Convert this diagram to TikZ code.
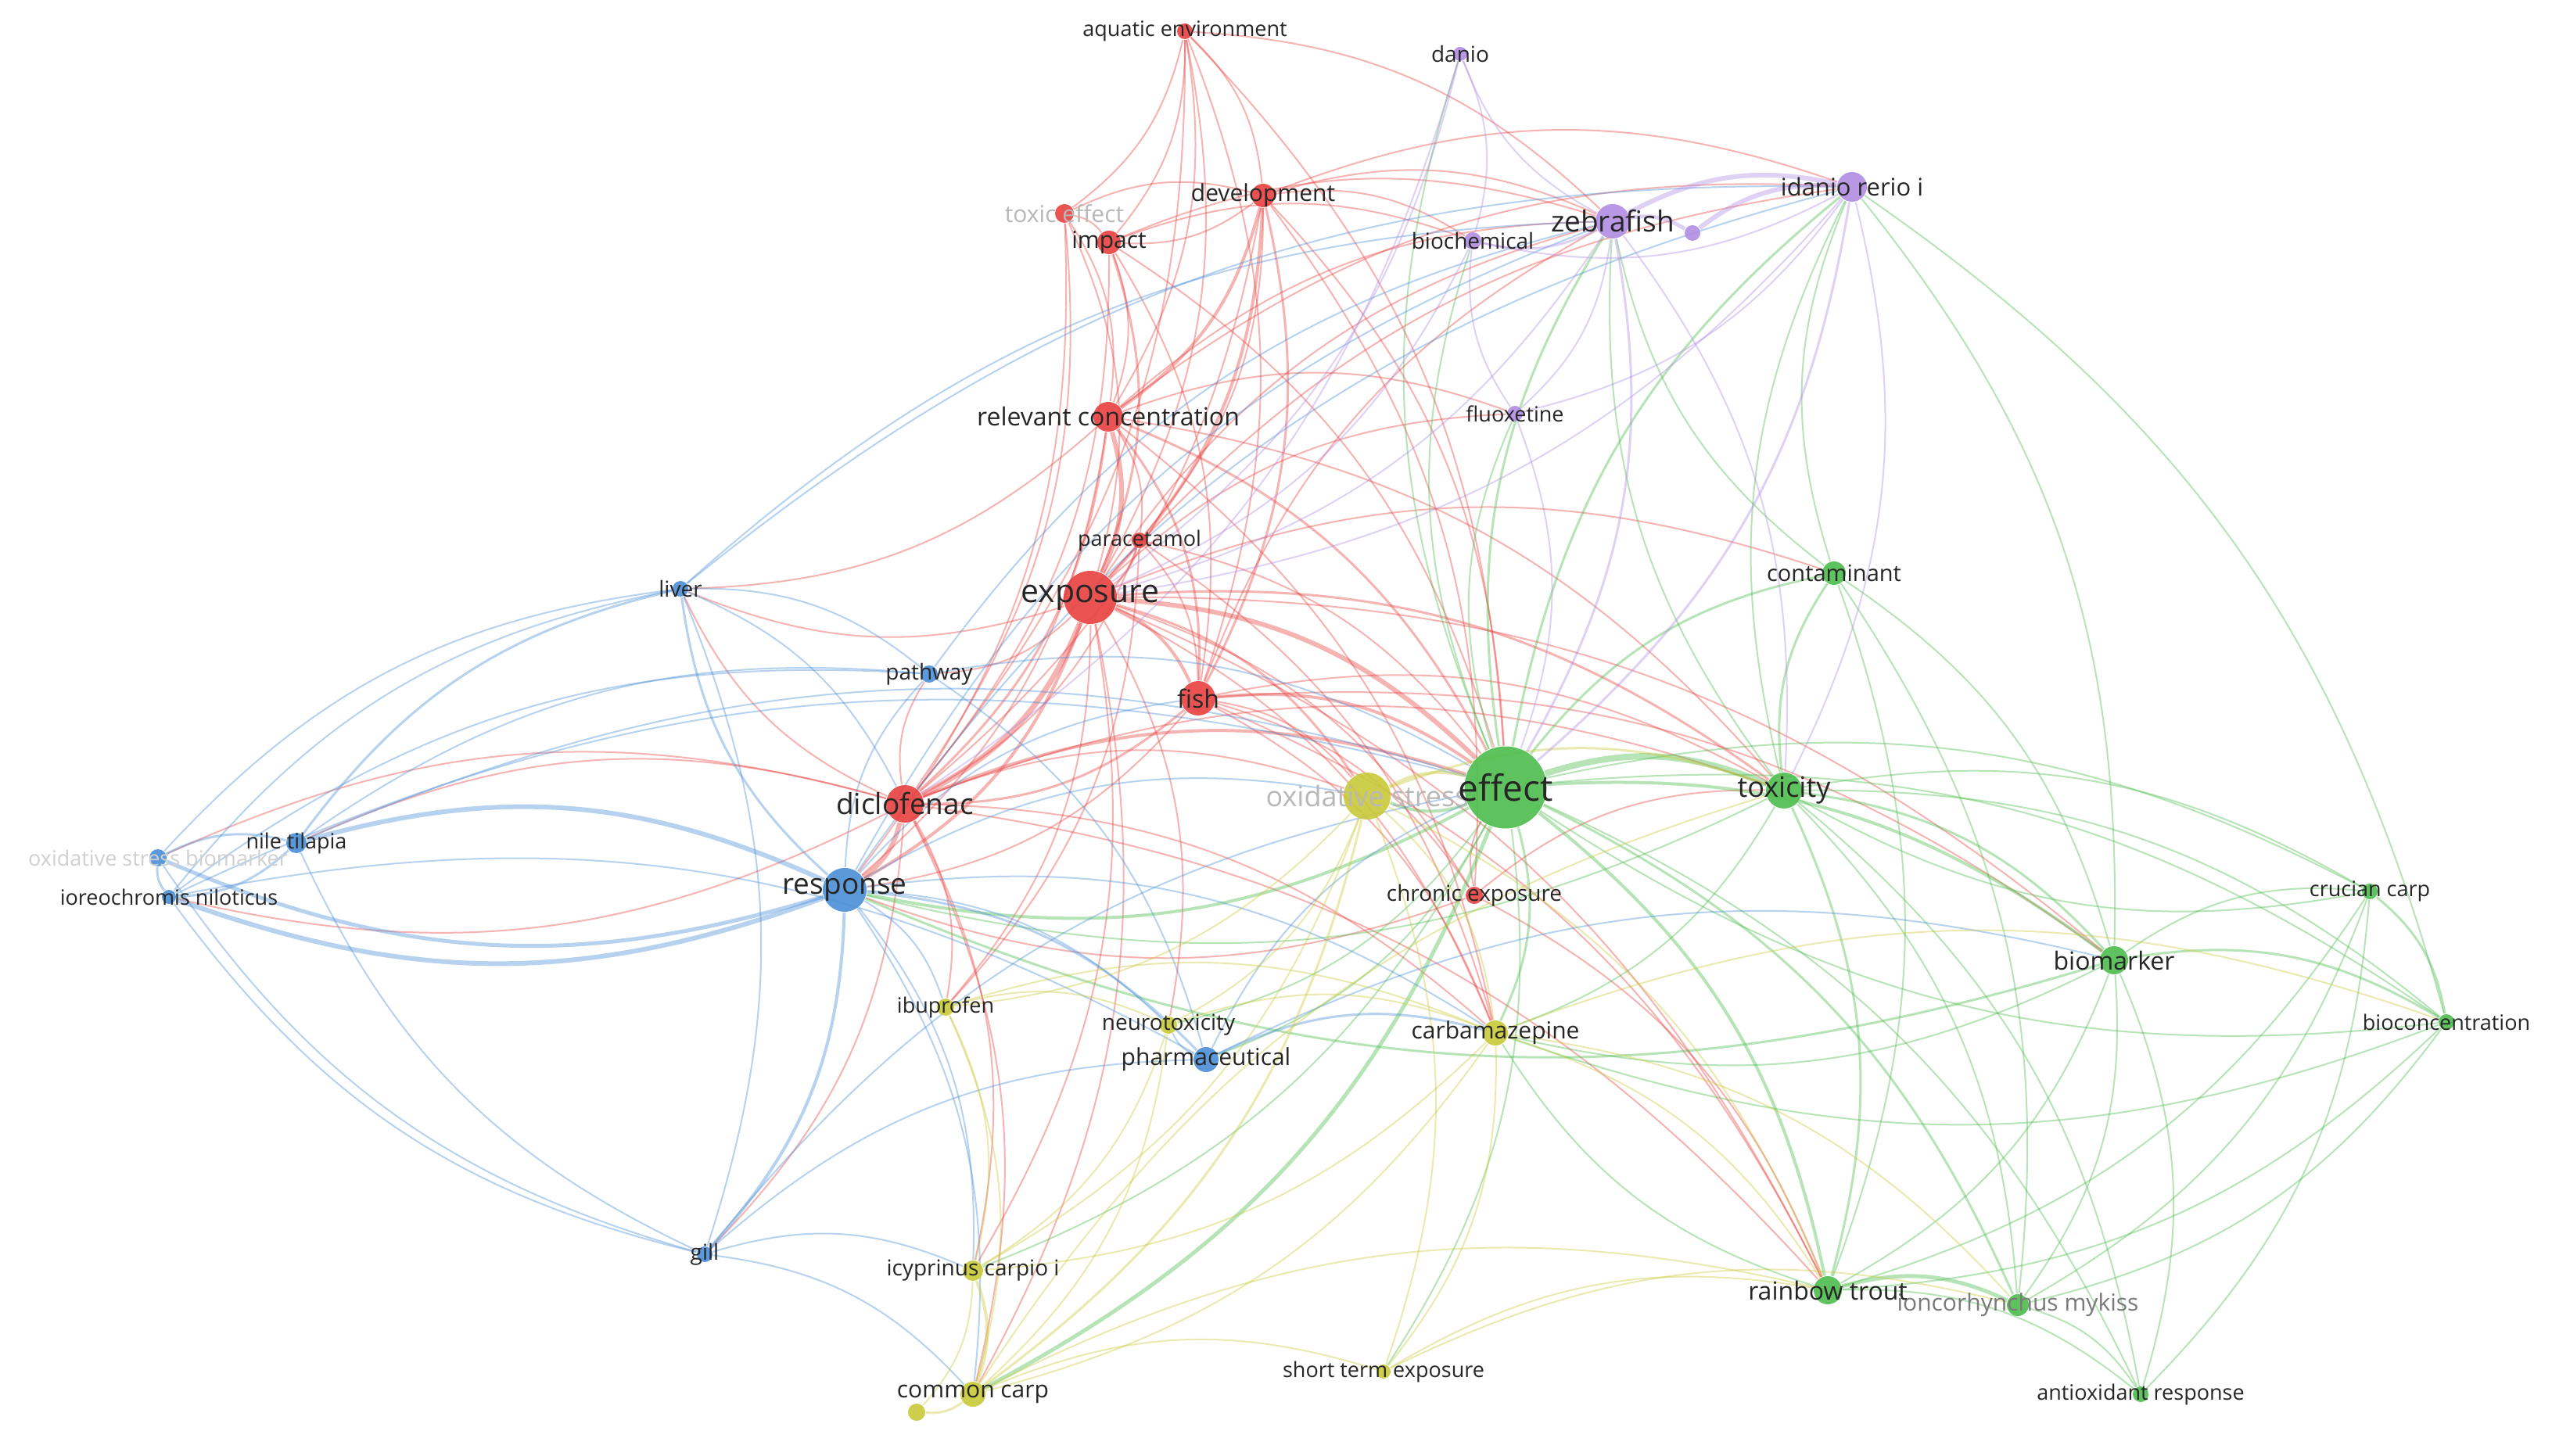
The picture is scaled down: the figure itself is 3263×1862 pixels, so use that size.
\documentclass[tikz,border=0pt]{standalone}
\usepackage{fontspec}
\setmainfont{Open Sans}
\pgfdeclarelayer{bg}
\pgfsetlayers{bg,main}
\definecolor{kR}{HTML}{E8413F}
\definecolor{kG}{HTML}{4DBD4D}
\definecolor{kB}{HTML}{4A8FD8}
\definecolor{kY}{HTML}{C9C93A}
\definecolor{kP}{HTML}{B18DE3}
\definecolor{labc}{HTML}{262626}
\definecolor{fadec}{HTML}{B8B8B8}
\definecolor{fadeb}{HTML}{D0D0D0}
\definecolor{midc}{HTML}{7A7A7A}
\tikzset{
  kn/.style={circle, inner sep=0pt, minimum size=#1*0.2pt, fill opacity=0.9, draw=none},
  lab/.style={inner sep=0pt, anchor=center},
  lnk/.style={bend left=20, draw opacity=0.4},
}
\newcommand\kw[8]{%
  \pgfmathsetmacro\kwfs{#6*0.2}%
  \node[kn=#4, fill=#5] (#1) at (#2,#3) {};
  \node[lab, text=#8, font=\fontsize{\kwfs pt}{\kwfs pt}\selectfont] (l#1) at (#2,#3) {#7};}
\newcommand\edgeset[2]{\foreach \a/\b/\w in {#2}{\draw[lnk, draw=#1, line width=\w*0.2pt] (\a) to (\b);}}
\begin{document}
\begin{tikzpicture}[x=0.2pt,y=-0.2pt]
\useasboundingbox (0,0) rectangle (3263,1862);
% ---- small nodes first
\kw{oreo}{216}{1147}{18}{kB}{27}{ioreochromis niloticus}{labc}
\kw{oxbio}{202}{1097}{22}{kB}{27}{oxidative stress biomarker}{fadeb}
\kw{nile}{379}{1078}{26}{kB}{27}{nile tilapia}{labc}
\kw{liver}{870}{753}{20}{kB}{28}{liver}{labc}
\kw{pathway}{1188}{862}{22}{kB}{28}{pathway}{labc}
\kw{gill}{901}{1604}{20}{kB}{28}{gill}{labc}
\kw{aqua}{1515}{40}{20}{kR}{27}{aquatic environment}{labc}
\kw{toxeff}{1361}{273}{24}{kR}{30}{toxic effect}{fadec}
\kw{parac}{1457}{691}{20}{kR}{27}{paracetamol}{labc}
\kw{chronic}{1885}{1145}{22}{kR}{28}{chronic exposure}{labc}
\kw{danio}{1867}{69}{18}{kP}{28}{danio}{labc}
\kw{biochem}{1883}{308}{22}{kP}{28}{biochemical}{labc}
\kw{smallp}{2164}{298}{20}{kP}{1}{}{labc}
\kw{fluox}{1937}{529}{20}{kP}{27}{fluoxetine}{labc}
\kw{ibup}{1209}{1288}{22}{kY}{27}{ibuprofen}{labc}
\kw{neuro}{1494}{1311}{22}{kY}{28}{neurotoxicity}{labc}
\kw{short}{1769}{1754}{18}{kY}{27}{short term exposure}{labc}
\kw{smally}{1172}{1806}{22}{kY}{1}{}{labc}
\kw{cypr}{1244}{1625}{26}{kY}{28}{icyprinus carpio i}{labc}
\kw{ccarp}{1244}{1783}{32}{kY}{30}{common carp}{labc}
\kw{crucian}{3030}{1140}{20}{kG}{27}{crucian carp}{labc}
\kw{biocon}{3128}{1307}{20}{kG}{27}{bioconcentration}{labc}
\kw{antiox}{2737}{1783}{20}{kG}{27}{antioxidant response}{labc}
\kw{oncor}{2580}{1669}{28}{kG}{30}{ioncorhynchus mykiss}{midc}
\kw{impact}{1418}{310}{30}{kR}{30}{impact}{labc}
\kw{dev}{1615}{250}{30}{kR}{30}{development}{labc}
\kw{contam}{2345}{733}{30}{kG}{29}{contaminant}{labc}
\kw{carbam}{1912}{1321}{32}{kY}{30}{carbamazepine}{labc}
\kw{pharma}{1542}{1355}{32}{kB}{30}{pharmaceutical}{labc}
\kw{rainbow}{2337}{1650}{36}{kG}{32}{rainbow trout}{labc}
\kw{biomarker}{2703}{1228}{36}{kG}{32}{biomarker}{labc}
\kw{relconc}{1417}{533}{38}{kR}{32}{relevant concentration}{labc}
\kw{drerio}{2368}{239}{38}{kP}{31}{idanio rerio i}{labc}
\kw{zebra}{2062}{283}{44}{kP}{37}{zebrafish}{labc}
\kw{fish}{1532}{893}{44}{kR}{32}{fish}{labc}
\kw{toxicity}{2281}{1011}{46}{kG}{36}{toxicity}{labc}
\kw{diclo}{1157}{1028}{48}{kR}{37}{diclofenac}{labc}
\kw{response}{1080}{1138}{56}{kB}{37}{response}{labc}
\kw{expo}{1394}{764}{68}{kR}{41}{exposure}{labc}
\kw{oxstress}{1748}{1018}{60}{kY}{36}{oxidative stress}{fadec}
\kw{effect}{1925}{1007}{105}{kG}{46}{effect}{labc}
\begin{pgfonlayer}{bg}
\fill[white] (0,0) rectangle (3263,1862);
% red
\edgeset{kR}{aqua/dev/2, aqua/toxeff/2, aqua/relconc/2, aqua/expo/2, aqua/impact/2, aqua/fish/2, aqua/effect/2, aqua/zebra/2, aqua/diclo/2,
toxeff/impact/2, toxeff/expo/2, toxeff/diclo/2, toxeff/relconc/2, toxeff/response/2, toxeff/dev/2,
dev/impact/2, dev/relconc/4, dev/expo/4, dev/fish/3, dev/effect/2, dev/zebra/2, dev/drerio/2, dev/diclo/2, dev/parac/2, dev/chronic/2, dev/biochem/2,
impact/relconc/2, impact/expo/3, impact/fish/2, impact/diclo/2, impact/effect/2, impact/biochem/2, impact/zebra/2,
relconc/expo/6, relconc/fish/3, relconc/diclo/3, relconc/effect/3, relconc/parac/2, relconc/response/2, relconc/zebra/2, relconc/toxicity/2, relconc/liver/2, relconc/carbam/2, relconc/fluox/2, relconc/drerio/2,
parac/expo/2, parac/diclo/2, parac/fish/2, parac/effect/2, parac/ibup/2, parac/carbam/2,
expo/fish/4, expo/diclo/7, expo/effect/6, expo/response/4, expo/oxstress/3, expo/toxicity/3, expo/zebra/2, expo/drerio/2, expo/liver/2, expo/pathway/2, expo/biomarker/2, expo/ibup/2, expo/carbam/2, expo/neuro/2, expo/cypr/2, expo/ccarp/2, expo/chronic/2, expo/contam/2, expo/fluox/2, expo/rainbow/2,
fish/diclo/3, fish/effect/4, fish/response/2, fish/toxicity/2, fish/biomarker/2, fish/carbam/2, fish/oxstress/2, fish/chronic/2, fish/rainbow/2, fish/zebra/2,
diclo/response/6, diclo/effect/4, diclo/oxstress/2, nile/diclo/2, diclo/liver/2, diclo/pathway/2, diclo/gill/2, diclo/ibup/2, diclo/carbam/2, diclo/cypr/2, diclo/ccarp/2, diclo/toxicity/2, diclo/rainbow/2, diclo/oreo/2, oxbio/diclo/2,
chronic/effect/2, chronic/rainbow/2, chronic/response/2, chronic/toxicity/2}
% green
\edgeset{kG}{effect/toxicity/8, effect/contam/3, effect/biomarker/4, effect/crucian/2, effect/biocon/2, effect/rainbow/4, effect/oncor/3, effect/antiox/2, effect/zebra/3, effect/drerio/3, effect/response/4, effect/oxstress/4, effect/carbam/3, effect/ccarp/5, effect/cypr/2, effect/neuro/2, effect/short/2, effect/pharma/2, effect/fluox/2, effect/biochem/2, effect/danio/2,
toxicity/contam/3, toxicity/biomarker/3, toxicity/crucian/2, toxicity/biocon/2, toxicity/rainbow/3, toxicity/oncor/2, toxicity/antiox/2, toxicity/zebra/2, toxicity/drerio/2, toxicity/response/2, toxicity/carbam/2,
contam/biomarker/2, contam/rainbow/2, contam/oncor/2, contam/zebra/2, contam/drerio/2,
biomarker/crucian/2, biomarker/biocon/3, biomarker/rainbow/2, biomarker/oncor/2, biomarker/antiox/2, biomarker/response/3, biomarker/carbam/2, drerio/biomarker/2, drerio/biocon/2,
crucian/biocon/3, crucian/rainbow/2, crucian/oncor/2, crucian/antiox/2, crucian/toxicity/2,
biocon/rainbow/2, biocon/oncor/2, biocon/carbam/2, biocon/effect/2,
rainbow/oncor/5, rainbow/antiox/2, rainbow/carbam/2, oncor/antiox/2}
% blue
\edgeset{kB}{response/liver/3, response/pathway/2, nile/response/6, response/oreo/6, response/oxbio/5, response/gill/4, response/pharma/3, response/ibup/2, response/cypr/2, response/ccarp/2, response/neuro/2, response/carbam/2, response/oxstress/2, response/zebra/2, response/drerio/2, response/fish/2,
nile/liver/3, oreo/liver/2, oxbio/liver/2, liver/pathway/2, liver/gill/2, liver/drerio/2, liver/zebra/2, liver/diclo/2,
nile/pathway/2, oreo/pathway/2, pathway/pharma/2, pathway/effect/2, pathway/zebra/2,
nile/oreo/3, oxbio/nile/3, gill/nile/2, nile/effect/2,
oreo/oxbio/3, gill/oreo/2, oreo/effect/2, oreo/pharma/2, gill/oxbio/2,
gill/cypr/2, gill/pharma/2, gill/effect/2, gill/ccarp/2,
pharma/carbam/3, pharma/effect/2, pharma/biomarker/2, pharma/neuro/2}
% yellow
\edgeset{kY}{oxstress/effect/4, oxstress/carbam/2, oxstress/ibup/2, oxstress/neuro/2, oxstress/cypr/2, oxstress/ccarp/3, oxstress/short/2, oxstress/toxicity/3, oxstress/rainbow/2,
ibup/carbam/2, ibup/cypr/2, ibup/ccarp/2, ibup/neuro/2,
neuro/carbam/2, neuro/cypr/2, neuro/ccarp/2,
carbam/cypr/2, carbam/ccarp/2, carbam/short/2, carbam/rainbow/2, carbam/biocon/2, carbam/oncor/2,
cypr/ccarp/4, cypr/smally/2, ccarp/smally/3, ccarp/short/2, ccarp/toxicity/2, ccarp/rainbow/2,
short/oncor/2, short/rainbow/2}
% purple
\edgeset{kP}{zebra/drerio/6, zebra/smallp/5, smallp/drerio/6, zebra/biochem/3, zebra/fluox/2, zebra/danio/2, drerio/fluox/2, drerio/biochem/2, danio/biochem/2, danio/expo/2, danio/diclo/2, fluox/biochem/2, fluox/effect/2, drerio/effect/3, zebra/effect/3, drerio/expo/2, zebra/expo/2, biochem/expo/2, drerio/toxicity/2, zebra/toxicity/2}
\end{pgfonlayer}
\end{tikzpicture}
\end{document}
